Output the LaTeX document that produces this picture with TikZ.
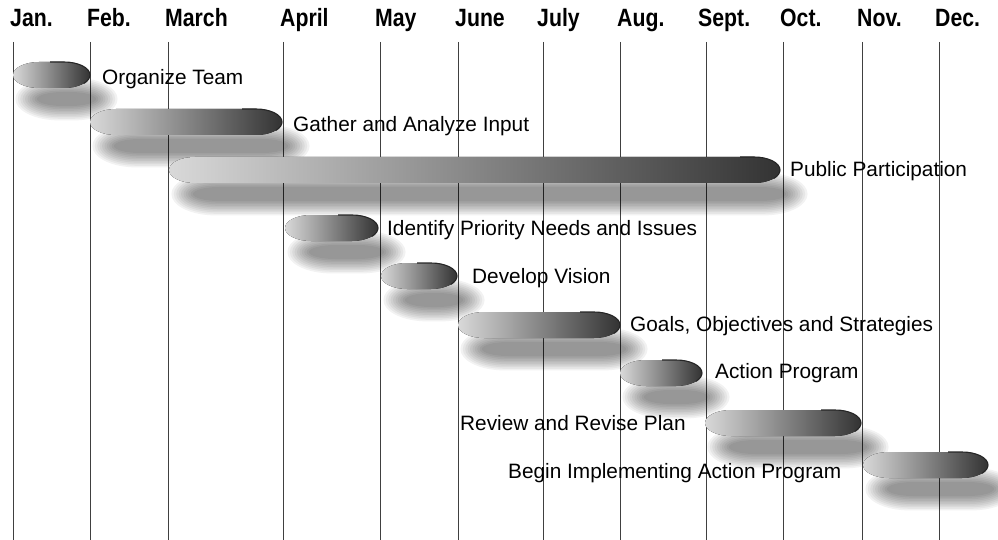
\documentclass[tikz,border=0pt]{standalone}
\usepackage{fontspec}
\setmainfont{Liberation Sans}
\usepackage{graphicx}
\tikzset{
 vline/.style={draw=black!75, line width=0.8pt},
 month/.style={anchor=base west, inner sep=0pt, font=\bfseries\fontsize{25}{25}\selectfont},
 task/.style={anchor=base west, inner sep=0pt, font=\fontsize{20.8}{24}\selectfont},
 barholder/.style={rectangle, minimum height=26pt, inner sep=0pt, outer sep=0pt, draw=none},
 barfill/.style={left color=black!15, right color=black!80},
 rim/.style={draw=black!85, line width=1.1pt},
 shadowpart/.style={fill=black, opacity=0.05},
}
% capsule with elliptical ends: x1, x2, yc, half-height, x-radius
\newcommand{\capsulepath}[5]{%
  ({#1+#5},{#3-#4}) -- ({#2-#5},{#3-#4})
  arc[start angle=90, end angle=-90, x radius=#5 pt, y radius=#4 pt]
  -- ({#1+#5},{#3+#4})
  arc[start angle=270, end angle=90, x radius=#5 pt, y radius=#4 pt] -- cycle
}
\newcommand{\gbar}[4]{%
  \pgfmathsetmacro\rx{min(26,(#3-#2)/2-2)}%
  \foreach \i in {0,...,9}{%
    \pgfmathsetmacro\sxa{#2+24-2.4*\i}%
    \pgfmathsetmacro\sxb{#3+6+2.4*\i}%
    \pgfmathsetmacro\shh{7+1.6*\i}%
    \pgfmathsetmacro\srx{min(\rx+2*\i,(\sxb-\sxa)/2-1)}%
    \fill[shadowpart] \capsulepath{\sxa}{\sxb}{#4+24}{\shh}{\srx};
  }%
  \node[barholder, minimum width={(#3-#2)*1pt}] (#1) at ({(#2+#3)/2},#4) {};
  \fill[barfill] \capsulepath{#2}{#3}{#4}{13}{\rx};
  \draw[rim] ({#3-\rx-14},{#4-13}) -- ({#3-\rx},{#4-13})
    arc[start angle=90, end angle=-40, x radius=\rx pt, y radius=13pt];
}
\begin{document}
\begin{tikzpicture}[x=1pt,y=-1pt]
\useasboundingbox (0,0) rectangle (998,540);
% grid lines
\foreach \x in {13,90,168,283,380,458,543,620,706,783,862,939}{
  \draw[vline] (\x,42) -- (\x,540);
}
% months
\node[month] (m1)  at (10,27)  {\scalebox{0.85}[1]{Jan.}};
\node[month] (m2)  at (87,27)  {\scalebox{0.85}[1]{Feb.}};
\node[month] (m3)  at (165,27) {\scalebox{0.85}[1]{March}};
\node[month] (m4)  at (280,27) {\scalebox{0.85}[1]{April}};
\node[month] (m5)  at (375,27) {\scalebox{0.85}[1]{May}};
\node[month] (m6)  at (455,27) {\scalebox{0.85}[1]{June}};
\node[month] (m7)  at (537,27) {\scalebox{0.85}[1]{July}};
\node[month] (m8)  at (617,27) {\scalebox{0.85}[1]{Aug.}};
\node[month] (m9)  at (698,27) {\scalebox{0.85}[1]{Sept.}};
\node[month] (m10) at (780,27) {\scalebox{0.85}[1]{Oct.}};
\node[month] (m11) at (857,27) {\scalebox{0.85}[1]{Nov.}};
\node[month] (m12) at (935,27) {\scalebox{0.85}[1]{Dec.}};
% bars
\gbar{b1}{13}{90}{75}
\gbar{b2}{90}{282}{122}
\gbar{b3}{169}{780}{170}
\gbar{b4}{285}{378}{228}
\gbar{b5}{381}{457}{276}
\gbar{b6}{458}{620}{325}
\gbar{b7}{620}{702}{373}
\gbar{b8}{705}{861}{423}
\gbar{b9}{863}{988}{465}
% labels
\node[task] (t1) at (102,85)  {Organize Team};
\node[task] (t2) at (293,132) {Gather and Analyze Input};
\node[task] (t3) at (790,177) {Public Participation};
\node[task] (t4) at (387,235) {Identify Priority Needs and Issues};
\node[task] (t5) at (472,283) {Develop Vision};
\node[task] (t6) at (630,331) {Goals, Objectives and Strategies};
\node[task] (t7) at (715,378) {Action Program};
\node[task] (t8) at (460,430) {Review and Revise Plan};
\node[task] (t9) at (508,478) {Begin Implementing Action Program};
\end{tikzpicture}
\end{document}
